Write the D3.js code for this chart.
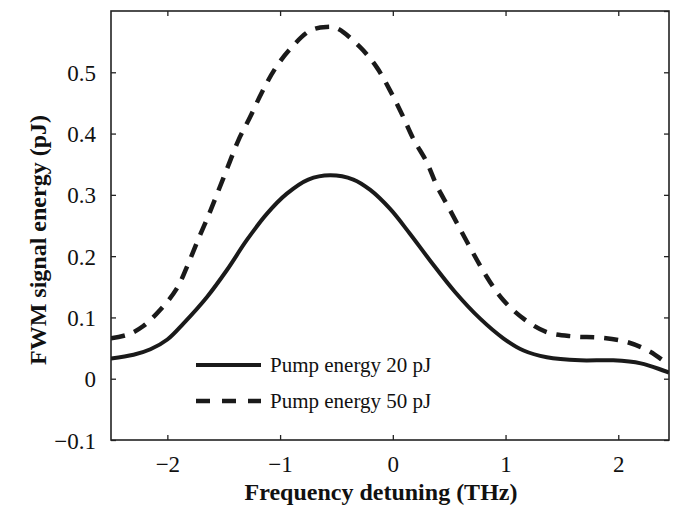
<!DOCTYPE html>
<html><head><meta charset="utf-8">
<script src="https://cdn.jsdelivr.net/npm/d3@7"></script>
<style>body{margin:0;background:#fff}svg{display:block}</style>
</head><body>
<script>
const xTicks = [-2, -1, 0, 1, 2];
const yTicks = [-0.1, 0, 0.1, 0.2, 0.3, 0.4, 0.5, 0.6];
const seriesNames = ["Pump energy 20 pJ", "Pump energy 50 pJ"];
const x20 = [-2.5, -2.3, -2.15, -2.0, -1.858, -1.65, -1.473, -1.296, -1.118, -0.94, -0.75, -0.556, -0.35, -0.2, -0.024, 0.15, 0.33, 0.55, 0.775, 0.98, 1.16, 1.366, 1.663, 1.955, 2.2, 2.45];
const y20 = [0.033, 0.039, 0.048, 0.064, 0.090, 0.133, 0.177, 0.226, 0.269, 0.302, 0.325, 0.332, 0.325, 0.308, 0.277, 0.237, 0.193, 0.142, 0.098, 0.066, 0.046, 0.035, 0.030, 0.030, 0.025, 0.010];
const x50 = [-2.5, -2.35, -2.213, -2.065, -1.917, -1.814, -1.725, -1.636, -1.547, -1.459, -1.37, -1.266, -1.162, -1.044, -0.911, -0.733, -0.59, -0.497, -0.29, -0.142, -0.024, 0.08, 0.183, 0.302, 0.39, 0.493, 0.834, 0.981, 1.159, 1.366, 1.602, 1.84, 2.076, 2.283, 2.45];
const y50 = [0.066, 0.072, 0.086, 0.112, 0.147, 0.188, 0.228, 0.266, 0.307, 0.348, 0.389, 0.427, 0.467, 0.506, 0.538, 0.568, 0.574, 0.572, 0.541, 0.508, 0.470, 0.432, 0.391, 0.353, 0.315, 0.280, 0.166, 0.128, 0.098, 0.076, 0.069, 0.067, 0.060, 0.044, 0.022];

const W = 685, H = 508;
const m = {l: 111, r: 669, t: 11, b: 440};
const svg = d3.select("body").append("svg").attr("width", W).attr("height", H);
const x = d3.scaleLinear().domain([-2.5, 2.45]).range([m.l, m.r]);
const y = d3.scaleLinear().domain([-0.1, 0.6]).range([m.b, m.t]);
const font = "'Liberation Serif', 'Times New Roman', serif";
const fmt = d => d === 0 ? "0" : (d < 0 ? "\u2212" : "") + Math.abs(d);

const gx = svg.append("g").attr("transform", `translate(0,${m.b})`)
  .call(d3.axisBottom(x).tickValues(xTicks).tickSize(-5).tickPadding(16).tickFormat(fmt));
const gxt = svg.append("g").attr("transform", `translate(0,${m.t})`)
  .call(d3.axisTop(x).tickValues(xTicks).tickSize(-5).tickFormat(""));
const gy = svg.append("g").attr("transform", `translate(${m.l},0)`)
  .call(d3.axisLeft(y).tickValues(yTicks.filter(v => v < 0.6)).tickSize(-5).tickPadding(15).tickFormat(d => fmt(+d.toFixed(1))));
const gyr = svg.append("g").attr("transform", `translate(${m.r},0)`)
  .call(d3.axisRight(y).tickValues(yTicks).tickSize(-5).tickFormat(""));
[gx, gxt, gy, gyr].forEach(g => {
  g.select(".domain").remove();
  g.selectAll(".tick line").attr("stroke", "#222").attr("stroke-width", 1.3);
  g.selectAll("text").attr("font-family", font).attr("font-size", 23).attr("fill", "#111");
});
gy.selectAll("text").attr("dy", "0.35em");

svg.append("rect").attr("x", m.l).attr("y", m.t).attr("width", m.r - m.l).attr("height", m.b - m.t)
  .attr("fill", "none").attr("stroke", "#222").attr("stroke-width", 1.6);

const line = d3.line().x(d => x(d[0])).y(d => y(d[1])).curve(d3.curveCatmullRom.alpha(0.5));
const d20 = x20.map((v, i) => [v, y20[i]]);
const d50 = x50.map((v, i) => [v, y50[i]]);
svg.append("clipPath").attr("id", "c").append("rect")
  .attr("x", m.l).attr("y", m.t).attr("width", m.r - m.l).attr("height", m.b - m.t);
svg.append("path").datum(d50).attr("d", line).attr("fill", "none").attr("stroke", "#1a1a1a")
  .attr("stroke-width", 4.5).attr("stroke-dasharray", "14,10").attr("clip-path", "url(#c)");
svg.append("path").datum(d20).attr("d", line).attr("fill", "none").attr("stroke", "#1a1a1a")
  .attr("stroke-width", 4).attr("clip-path", "url(#c)");

const lg = svg.append("g");
[[365, null], [401, "14,12"]].forEach((r, i) => {
  const ln = lg.append("line").attr("x1", 196).attr("x2", 261).attr("y1", r[0]).attr("y2", r[0])
    .attr("stroke", "#1a1a1a").attr("stroke-width", i ? 4.5 : 4);
  if (r[1]) ln.attr("stroke-dasharray", r[1]);
  lg.append("text").attr("x", 270).attr("y", r[0] + 7).text(seriesNames[i])
    .attr("font-family", font).attr("font-size", 21).attr("fill", "#111");
});

svg.append("text").attr("x", 381).attr("y", 500).attr("text-anchor", "middle")
  .attr("font-family", font).attr("font-size", 24).attr("font-weight", "bold").attr("fill", "#111")
  .text("Frequency detuning (THz)");
svg.append("text").attr("transform", `translate(46,240) rotate(-90)`).attr("text-anchor", "middle")
  .attr("font-family", font).attr("font-size", 24).attr("font-weight", "bold").attr("fill", "#111")
  .text("FWM signal energy (pJ)");
</script>
</body></html>
